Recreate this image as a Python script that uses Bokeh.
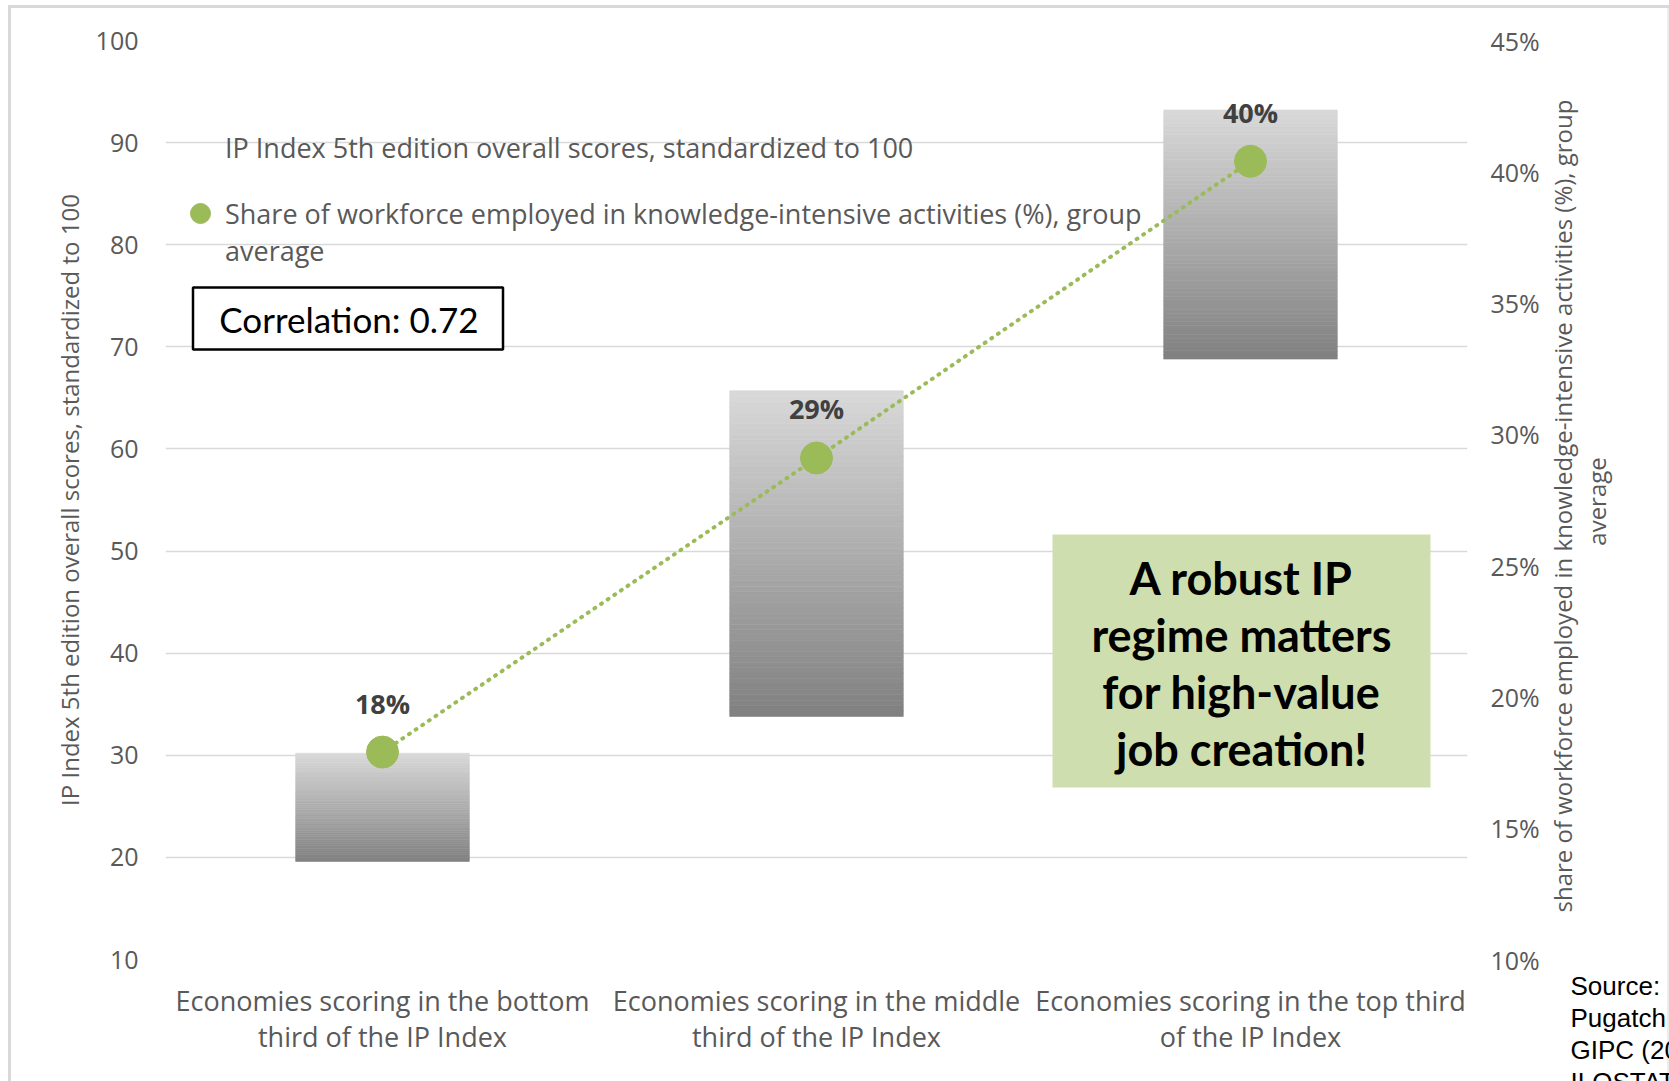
import math
from bokeh.plotting import figure
from bokeh.models import (FactorRange, Range1d, LinearAxis, CategoricalAxis, SingleIntervalTicker,
                          FixedTicker, PrintfTickFormatter, CustomJSTickFormatter, Legend,
                          LegendItem, Label, BoxAnnotation, Title)
from bokeh.core.properties import value
from bokeh.embed import file_html
from bokeh.resources import INLINE

# ---------------- data ----------------
categories = [
    "Economies scoring in the bottom third of the IP Index",
    "Economies scoring in the middle third of the IP Index",
    "Economies scoring in the top third of the IP Index",
]
category_line1 = ["Economies scoring in the bottom", "Economies scoring in the middle",
                  "Economies scoring in the top third"]
category_line2 = ["third of the IP Index", "third of the IP Index", "of the IP Index"]
ip_score_low = [19.6, 33.8, 68.8]      # IP Index scores (standardized to 100), bar bottom
ip_score_high = [30.2, 65.7, 93.2]     # bar top
share_knowledge = [17.9, 29.1, 40.4]   # % of workforce in knowledge-intensive activities
share_labels = ["18%", "29%", "40%"]
left_ticks_range = (10, 100)
right_ticks_range = (10, 45)
right_title_line1 = "share of workforce employed in knowledge-intensive activities (%), group"
right_title_line2 = "average"

GRAY_TXT = "#595959"
GREEN = "#9bbb59"
FONT = "Open Sans"

p = figure(width=1669, height=1081,
           x_range=FactorRange(factors=categories),
           y_range=Range1d(*left_ticks_range),
           output_backend="svg", toolbar_location=None,
           min_border_left=165, min_border_right=202,
           min_border_top=40, min_border_bottom=122)
p.outline_line_color = None
p.background_fill_color = "white"
p.border_fill_color = "white"
p.border_fill_alpha = 0
# light chart-area frame of the original (left / top / faint right edge)
p.styles = {"box-shadow": ("inset 8px 0 0 0 #ffffff, inset 0 5px 0 0 #ffffff, "
                           "inset 11px 0 0 0 #d9d9d9, inset 0 8px 0 0 #d9d9d9, "
                           "inset -2px 0 0 0 #ececec"),
            "background-color": "white"}
p.extra_y_ranges = {"pct": Range1d(*right_ticks_range)}

# grid
p.xgrid.grid_line_color = None
p.ygrid.grid_line_color = "#d9d9d9"
p.ygrid.grid_line_width = 1.5


def clean_axis(ax):
    ax.axis_line_color = None
    ax.major_tick_line_color = None
    ax.minor_tick_line_color = None
    ax.major_tick_out = 0
    ax.major_tick_in = 0
    ax.minor_tick_out = 0
    ax.minor_tick_in = 0
    ax.major_label_text_font = FONT
    ax.major_label_text_color = GRAY_TXT
    ax.axis_label_text_font = FONT
    ax.axis_label_text_font_style = "normal"
    ax.axis_label_text_color = GRAY_TXT
    ax.axis_label_text_line_height = 1.0
    ax.major_label_text_line_height = 1.0


# left axis
ya = p.yaxis[0]
clean_axis(ya)
ya.ticker = SingleIntervalTicker(interval=10, num_minor_ticks=0)
ya.axis_label = "IP Index 5th edition overall scores, standardized to 100"
ya.major_label_text_font_size = "25px"
ya.major_label_standoff = 27
ya.axis_label_text_font_size = "24px"
ya.axis_label_standoff = 7

# right axis: tick labels
ra = LinearAxis(y_range_name="pct",
                ticker=SingleIntervalTicker(interval=5, num_minor_ticks=0),
                formatter=PrintfTickFormatter(format="%d%%"))
clean_axis(ra)
ra.major_label_text_font_size = "25px"
ra.major_label_standoff = 23
p.add_layout(ra, "right")

# right axis title: two lines, reading bottom-to-top, each placed as a rotated label
# anchored at the start of its line
for txt, start, standoff in [(right_title_line1, 11.79, 20), (right_title_line2, 25.76, -2)]:
    t_ax = LinearAxis(y_range_name="pct", ticker=FixedTicker(ticks=[start]),
                      formatter=CustomJSTickFormatter(args=dict(t=txt), code="return t"))
    clean_axis(t_ax)
    t_ax.major_label_text_font_size = "24px"
    t_ax.major_label_orientation = math.pi / 2
    t_ax.major_label_standoff = standoff
    p.add_layout(t_ax, "right")

# bottom axis: two label lines -> two stacked categorical axes
xa = p.xaxis[0]
clean_axis(xa)
xa.formatter = CustomJSTickFormatter(args=dict(cats=categories, lines=category_line1),
                                     code="return lines[cats.indexOf(tick)]")
xa.major_label_text_font_size = "27px"
xa.major_label_standoff = 22

xb = CategoricalAxis(formatter=CustomJSTickFormatter(args=dict(cats=categories, lines=category_line2),
                                                     code="return lines[cats.indexOf(tick)]"))
clean_axis(xb)
xb.major_label_text_font_size = "27px"
xb.major_label_standoff = -4
p.add_layout(xb, "below")

# ---------------- bars (floating, vertical gray gradient) ----------------
base_bars = p.vbar(x=categories, bottom=ip_score_low, top=ip_score_high, width=0.4,
                   fill_alpha=0, line_alpha=0)
N = 60
sx, sb, st, sc = [], [], [], []
for cat, b, t in zip(categories, ip_score_low, ip_score_high):
    for k in range(N):
        sb.append(b + (t - b) * k / N)
        st.append(b + (t - b) * (k + 1) / N)
        g = int(round(0x80 + (0xd9 - 0x80) * (k + 0.5) / N))
        sc.append("#%02x%02x%02x" % (g, g, g))
        sx.append(cat)
p.vbar(x=sx, bottom=sb, top=st, width=0.4, fill_color=sc, line_color=sc, line_width=0.6)

# ---------------- share line + dots ----------------
p.line(x=categories, y=share_knowledge, y_range_name="pct", line_color=GREEN,
       line_width=4, line_dash="1 7", line_cap="round")
dots = p.scatter(x=categories, y=share_knowledge, y_range_name="pct", size=32,
                 fill_color=GREEN, line_color=GREEN)
p.text(x=categories, y=share_knowledge, text=share_labels, y_range_name="pct",
       y_offset=-49, text_align="center", text_baseline="middle",
       text_font=value(FONT), text_font_style="bold", text_font_size="27px",
       text_color="#404040")


# ---------------- legend (second entry wraps onto a second line) ----------------
def style_legend(lg):
    lg.background_fill_alpha = 0
    lg.border_line_color = None
    lg.padding = 0
    lg.margin = 0
    lg.spacing = 16
    lg.glyph_width = 50
    lg.glyph_height = 50
    lg.label_standoff = 0
    lg.label_text_font = FONT
    lg.label_text_font_size = "27px"
    lg.label_text_color = GRAY_TXT


legend = Legend(items=[
    LegendItem(label="IP Index 5th edition overall scores, standardized to 100", renderers=[base_bars]),
    LegendItem(label="Share of workforce employed in knowledge-intensive activities (%), group",
               renderers=[dots]),
], location=(10, 721))
style_legend(legend)
p.add_layout(legend)

legend_wrap = Legend(items=[LegendItem(label="average", renderers=[base_bars])], location=(10, 684))
style_legend(legend_wrap)
p.add_layout(legend_wrap)

# ---------------- annotations ----------------
# correlation box
p.add_layout(BoxAnnotation(left=192.5, right=502.5, top=287, bottom=349,
                           left_units="canvas", right_units="canvas",
                           top_units="canvas", bottom_units="canvas",
                           fill_color="white", fill_alpha=1,
                           line_color="black", line_alpha=1, line_width=2.5))
p.add_layout(Label(x=348.5, y=318, x_units="canvas", y_units="canvas",
                   text="Correlation: 0.72", text_align="center", text_baseline="middle",
                   text_font="Lato", text_font_size="35px", text_color="black"))

# green message box
p.add_layout(BoxAnnotation(left=1052, right=1430, top=534, bottom=787,
                           left_units="canvas", right_units="canvas",
                           top_units="canvas", bottom_units="canvas",
                           fill_color="#cfdeae", fill_alpha=1, line_alpha=0))
p.add_layout(Label(x=1241, y=663, x_units="canvas", y_units="canvas",
                   text="A robust IP\nregime matters\nfor high-value\njob creation!",
                   text_align="center", text_baseline="middle",
                   text_font="Lato", text_font_style="bold", text_font_size="45px",
                   text_line_height=1.05, text_color="black"))

# source note (cut at the right edge, as in the original)
src = Title(text="Source:\nPugatch\nGIPC (20\nILOSTAT", align="left", vertical_align="top",
            offset=1405, standoff=-174,
            text_font="Liberation Sans", text_font_size="26px", text_font_style="normal",
            text_color="black", text_line_height=1.07)
p.add_layout(src, "below")

open("out.html", "w").write(file_html(p, INLINE))
